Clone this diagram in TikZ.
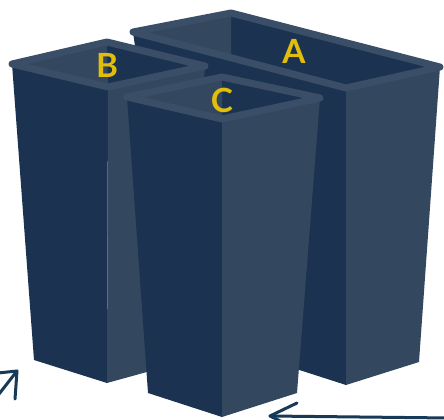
\documentclass[tikz,border=0pt]{standalone}
\usepackage{fontspec}
\setmainfont{Lato}
\definecolor{binDark}{RGB}{27,51,80}
\definecolor{binLight}{RGB}{51,71,95}
\definecolor{binRim}{RGB}{59,78,104}
\definecolor{binYellow}{RGB}{225,189,12}
\definecolor{arrowBlue}{RGB}{23,58,88}
\begin{document}
\begin{tikzpicture}[x=0.75pt,y=0.75pt,yscale=-1,xscale=1,
        rim/.style={draw=binRim, line width=5.25pt, line join=round},
        binlabel/.style={text=binYellow, inner sep=0.75pt, font=\fontsize{25}{25}\selectfont\bfseries},
        sketch/.style={draw=arrowBlue, line width=2.25pt, line cap=round, line join=round}]
        %set diagram to 444 x 419
        \clip (0,0) rectangle (444,419);

        %Shape: Bin A, left face
        \fill [binDark] (133,32) -- (346,88) -- (346,385) -- (175,330) -- cycle ;
        %Shape: Bin A, right face
        \fill [binLight] (346,88) -- (440,67) -- (419,362) -- (346,385) -- cycle ;
        %Shape: Bin A, inside
        \fill [binDark] (133,32) -- (231,13) -- (440,67) -- (346,88) -- cycle ;
        \fill [binLight] (133,32) -- (231,13) -- (231,58) -- cycle ;
        %Shape: Bin A, rim
        \draw [rim] (133,32) -- (231,13) -- (440,67) -- (346,88) -- cycle ;

        %Shape: Bin B, left face
        \fill [binDark] (12,64) -- (108,87) -- (107,383) -- (34,360) -- cycle ;
        %Shape: Bin B, right face
        \fill [binLight] (108,87) -- (205,66) -- (183,362) -- (107,383) -- cycle ;
        %Shape: Bin B, inside
        \fill [binDark] (12,64) -- (107,42) -- (205,66) -- (108,87) -- cycle ;
        \fill [binLight] (12,64) -- (107,42) -- (108,87) -- cycle ;
        %Shape: Bin B, rim
        \draw [rim] (12,64) -- (107,42) -- (205,66) -- (108,87) -- cycle ;

        %Shape: Bin C, left face
        \fill [binDark] (127,97) -- (222,119) -- (222,417) -- (148,393) -- cycle ;
        %Shape: Bin C, right face
        \fill [binLight] (222,119) -- (320,98) -- (297,393) -- (222,417) -- cycle ;
        %Shape: Bin C, inside
        \fill [binDark] (127,97) -- (222,77) -- (320,98) -- (222,119) -- cycle ;
        \fill [binLight] (127,97) -- (222,77) -- (222,119) -- cycle ;
        %Shape: Bin C, rim
        \draw [rim] (127,97) -- (222,77) -- (320,98) -- (222,119) -- cycle ;

        % Text Node
        \draw (294,51) node [binlabel] (labA) {A};
        % Text Node
        \draw (107,65) node [binlabel] (labB) {B};
        % Text Node
        \draw (222,100) node [binlabel] (labC) {C};

        %Straight Lines: arrow bottom left
        \coordinate (tipL) at (17,371);
        \coordinate (tailL) at (-8,403);
        \coordinate (barbL1) at (-2,373);
        \coordinate (barbL2) at (15,399);
        \draw [sketch] (tailL) -- (tipL) ;
        \draw [sketch] (barbL1) -- (tipL) -- (barbL2) ;
        %Straight Lines: arrow bottom right
        \coordinate (tipR) at (270,416);
        \coordinate (tailR) at (450,418);
        \coordinate (barbR1) at (297,403);
        \coordinate (barbR2) at (297,429);
        \draw [sketch] (tailR) -- (tipR) ;
        \draw [sketch] (barbR1) -- (tipR) -- (barbR2) ;

\end{tikzpicture}
\end{document}
